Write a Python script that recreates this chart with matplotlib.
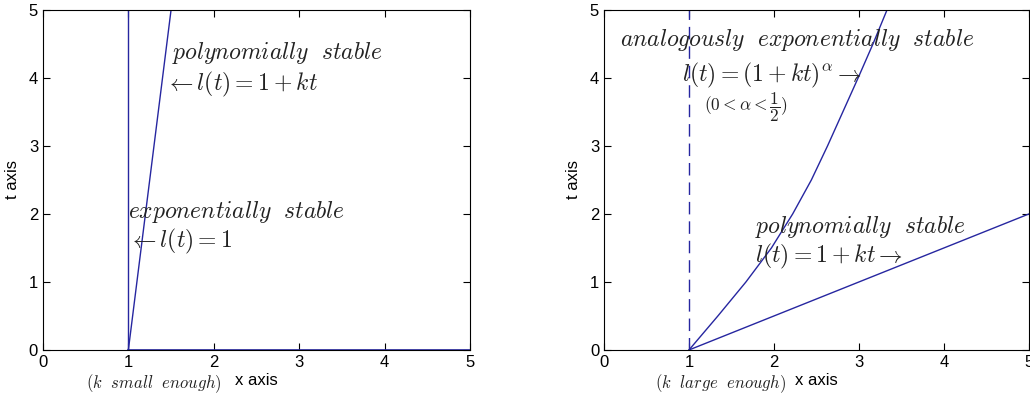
import matplotlib
matplotlib.use('Agg')
from matplotlib import pyplot as plt

plt.rcParams['font.family'] = ['Liberation Sans', 'DejaVu Sans']
plt.rcParams['mathtext.fontset'] = 'cm'

blue = '#2626a0'

# left panel: k small enough
exp_x = [1, 1]
exp_t = [0, 5]
poly_small_x = [1, 1.5]
poly_small_t = [0, 5]
base_x = [1, 5]
base_t = [0, 0]

# right panel: k large enough
dash_x = [1, 1]
dash_t = [0, 5]
poly_large_x = [1, 5]
poly_large_t = [0, 2]
analog_t = [0, 0.5, 1, 1.5, 2, 2.5, 3, 3.5, 4, 4.5, 5]
analog_x = [1, 1.34, 1.67, 1.97, 2.22, 2.44, 2.63, 2.81, 2.99, 3.165, 3.33]

ticks = [0, 1, 2, 3, 4, 5]

fig = plt.figure(figsize=(10.3, 3.95), dpi=100)
ax1 = fig.add_axes([0.0417, 0.114, 0.4146, 0.861])
ax2 = fig.add_axes([0.5864, 0.114, 0.4126, 0.861])

ax1.plot(exp_x, exp_t, color=blue, lw=1)
ax1.plot(poly_small_x, poly_small_t, color=blue, lw=1)
ax1.plot(base_x, base_t, color=blue, lw=1.2)

ax2.plot(dash_x, dash_t, color=blue, lw=1, ls=(0, (9, 5)))
ax2.plot(poly_large_x, poly_large_t, color=blue, lw=1)
ax2.plot(analog_x, analog_t, color=blue, lw=1)

for ax in (ax1, ax2):
    ax.set_xlim(0, 5)
    ax.set_ylim(0, 5)
    ax.set_xticks(ticks)
    ax.set_yticks(ticks)
    ax.tick_params(direction='in', top=True, right=True, labelsize=12, length=5)
    ax.set_xlabel('x axis', fontsize=12, labelpad=2)
    ax.set_ylabel('t axis', fontsize=12, labelpad=6)

tc = '#222222'
ax1.text(1.51, 4.37, r'$polynomially\ \ stable$', fontsize=17, va='center', color=tc)
ax1.text(1.43, 3.91, r'$\leftarrow l(t)=1+kt$', fontsize=17, va='center', color=tc)
ax1.text(1.0, 2.03, r'$exponentially\ \ stable$', fontsize=17, va='center', color=tc)
ax1.text(1.0, 1.59, r'$\leftarrow l(t)=1$', fontsize=17, va='center', color=tc)
ax1.text(0.5, -0.5, r'$(k\ \ small\ \ enough)$', fontsize=12, va='center', color=tc)

ax2.text(0.19, 4.56, r'$analogously\ \ exponentially\ \ stable$', fontsize=17, va='center', color=tc)
ax2.text(0.92, 4.04, r'$l(t)=(1+kt)^{\alpha}\rightarrow$', fontsize=17, va='center', color=tc)
ax2.text(1.18, 3.57, r'$(0<\alpha<\dfrac{1}{2})$', fontsize=12.5, va='center', color=tc)
ax2.text(1.78, 1.81, r'$polynomially\ \ stable$', fontsize=17, va='center', color=tc)
ax2.text(1.78, 1.37, r'$l(t)=1+kt\rightarrow$', fontsize=17, va='center', color=tc)
ax2.text(0.6, -0.5, r'$(k\ \ large\ \ enough)$', fontsize=12, va='center', color=tc)

fig.savefig('out.png', dpi=100)
